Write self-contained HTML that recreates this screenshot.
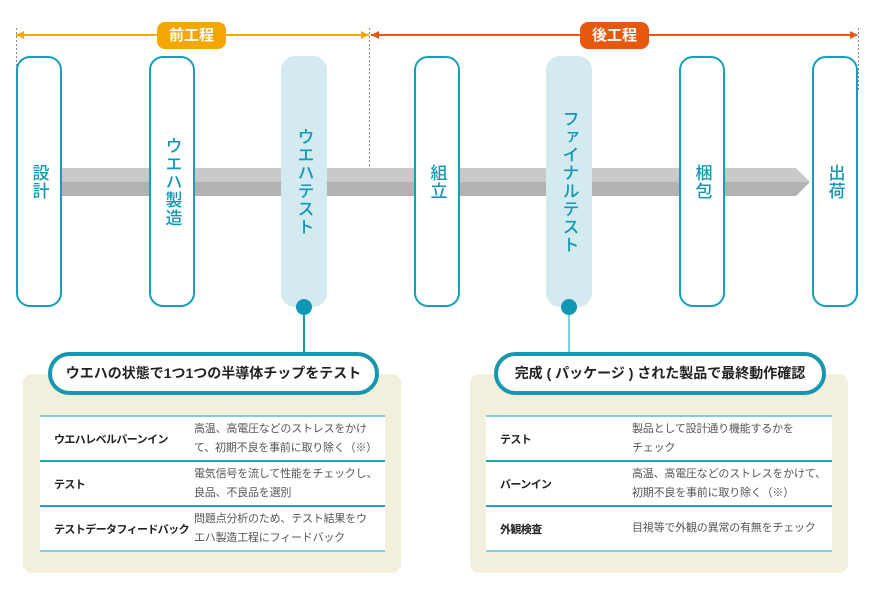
<!DOCTYPE html>
<html><head><meta charset="utf-8"><style>
body{margin:0;width:873px;height:590px;background:#fff;position:relative;overflow:hidden;font-family:"Liberation Sans","Noto Sans CJK JP",sans-serif;}
.a{position:absolute;box-sizing:border-box;}
.pill{position:absolute;top:56px;width:46px;height:251px;border:2.5px solid #14a0b8;border-radius:14px;background:#fff;box-sizing:border-box;display:flex;align-items:center;justify-content:center;}
.pill.f{background:#d3eaf0;border-color:#d3eaf0;}
.v{writing-mode:vertical-rl;font-size:17px;color:#1197b4;letter-spacing:1px;font-weight:500;}
.tag{position:absolute;top:22px;height:27px;border-radius:8px;color:#fff;font-size:15px;font-weight:bold;text-align:center;line-height:27px;width:69px;}
.panel{position:absolute;top:374px;height:199px;background:#f2f0dc;border-radius:9px;}
.bub{position:absolute;top:352px;height:43px;border:4px solid #1597b0;border-radius:22px;background:#fff;box-sizing:border-box;font-size:14px;font-weight:bold;color:#222;text-align:center;line-height:35px;white-space:nowrap;}
.tbl{position:absolute;background:#fff;border-top:2px solid #7ecfdf;}
.row{position:relative;height:45px;border-bottom:2px solid #1ea5bd;box-sizing:border-box;font-size:11px;white-space:nowrap;}
.row:last-child{border-bottom-color:#7ecfdf;}
.k{position:absolute;left:14px;top:0;height:43px;display:flex;align-items:center;font-weight:bold;color:#222;letter-spacing:-0.6px;}
.d{position:absolute;top:0;height:43px;display:flex;align-items:center;color:#555;line-height:19px;letter-spacing:-0.2px;}
</style></head><body>
<div class="a" style="left:16px;top:34px;width:353px;height:2px;background:#f5a800"></div>
<div class="a" style="left:371px;top:34px;width:486px;height:2px;background:#e8590f"></div>
<svg class="a" style="left:0;top:0" width="873" height="200">
<line x1="16.5" y1="28" x2="16.5" y2="90" stroke="#888" stroke-dasharray="2,2"/>
<line x1="369.5" y1="28" x2="369.5" y2="166" stroke="#888" stroke-dasharray="2,2"/>
<line x1="858.5" y1="28" x2="858.5" y2="90" stroke="#888" stroke-dasharray="2,2"/>
<polygon points="16,35 24,31 24,39" fill="#f5a800"/>
<polygon points="369,35 361,31 361,39" fill="#f5a800"/>
<polygon points="371,35 379,31 379,39" fill="#e8590f"/>
<polygon points="858,35 850,31 850,39" fill="#e8590f"/>
<polygon points="40,168 796,168 810,182 40,182" fill="#c8c9ca"/>
<polygon points="40,182 810,182 796,196 40,196" fill="#b2b2b3"/>
</svg>
<div class="tag" style="left:157px;background:#f4a700">前工程</div>
<div class="tag" style="left:580px;background:#e6580e">後工程</div>
<div class="pill" style="left:16px"><span class="v">設計</span></div>
<div class="pill" style="left:149px"><span class="v">ウエハ製造</span></div>
<div class="pill f" style="left:281px"><span class="v">ウエハテスト</span></div>
<div class="pill" style="left:414px"><span class="v">組立</span></div>
<div class="pill f" style="left:546px"><span class="v">ファイナルテスト</span></div>
<div class="pill" style="left:679px"><span class="v">梱包</span></div>
<div class="pill" style="left:812px"><span class="v">出荷</span></div>
<div class="a" style="left:303px;top:307px;width:2px;height:46px;background:#1597b0"></div>
<div class="a" style="left:296px;top:299px;width:16px;height:16px;border-radius:50%;background:#0e98b4"></div>
<div class="a" style="left:568px;top:307px;width:2px;height:46px;background:#7ecfdf"></div>
<div class="a" style="left:561px;top:299px;width:16px;height:16px;border-radius:50%;background:#0e98b4"></div>

<div class="panel" style="left:23px;width:378px"></div>
<div class="bub" style="left:48px;width:331px">ウエハの状態で1つ1つの半導体チップをテスト</div>
<div class="tbl" style="left:40px;top:415px;width:345px">
<div class="row"><div class="k">ウエハレベルバーンイン</div><div class="d" style="left:154px">高温、高電圧などのストレスをかけ<br>て、初期不良を事前に取り除く（※）</div></div>
<div class="row"><div class="k">テスト</div><div class="d" style="left:154px">電気信号を流して性能をチェックし、<br>良品、不良品を選別</div></div>
<div class="row"><div class="k">テストデータフィードバック</div><div class="d" style="left:154px">問題点分析のため、テスト結果をウ<br>エハ製造工程にフィードバック</div></div>
</div>

<div class="panel" style="left:470px;width:378px"></div>
<div class="bub" style="left:494px;width:332px">完成 ( パッケージ ) された製品で最終動作確認</div>
<div class="tbl" style="left:486px;top:415px;width:346px">
<div class="row"><div class="k">テスト</div><div class="d" style="left:146px">製品として設計通り機能するかを<br>チェック</div></div>
<div class="row"><div class="k">バーンイン</div><div class="d" style="left:146px">高温、高電圧などのストレスをかけて、<br>初期不良を事前に取り除く（※）</div></div>
<div class="row"><div class="k">外観検査</div><div class="d" style="left:146px">目視等で外観の異常の有無をチェック</div></div>
</div>
</body></html>
